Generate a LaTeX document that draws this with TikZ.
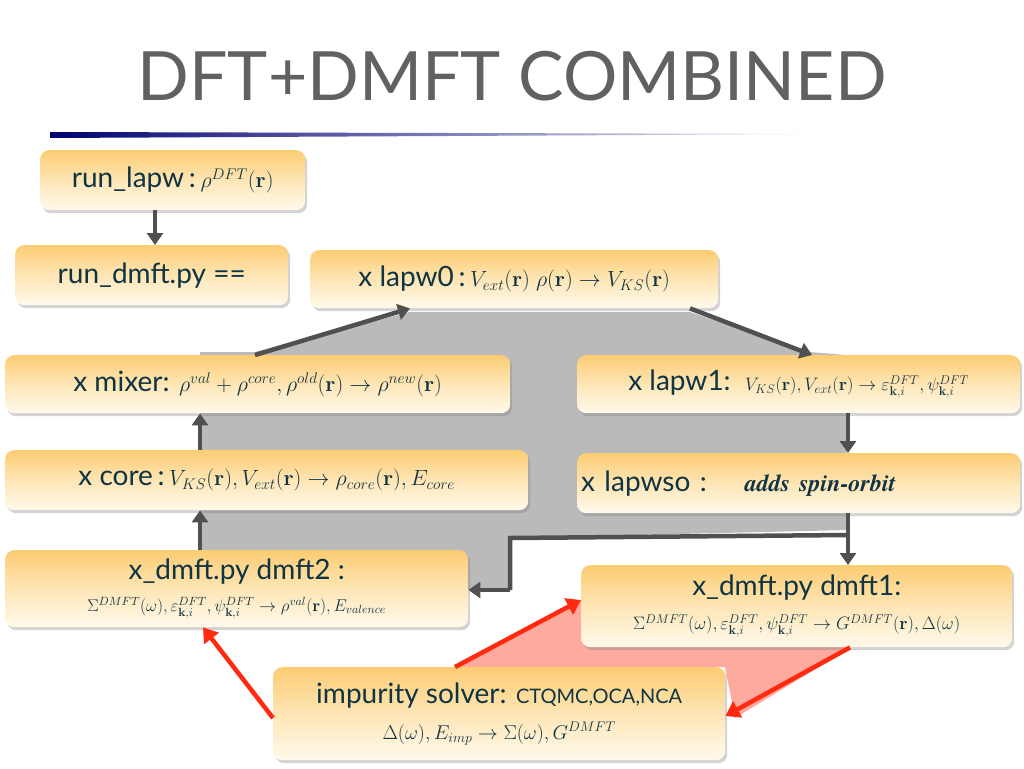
\documentclass[tikz,border=0pt]{standalone}
\usepackage{fix-cm}
\usepackage{amsmath}
\usepackage[no-math]{fontspec}
\setmainfont{Lato}
\usetikzlibrary{shadows,arrows.meta}
\definecolor{tc}{HTML}{0F3442}
\definecolor{ctop}{HTML}{FCCC73}
\definecolor{cbot}{HTML}{FFFAEC}
\definecolor{ag}{HTML}{505050}
\definecolor{ar}{HTML}{FF2A10}
\tikzset{
 bx/.style={rounded corners=9pt, top color=ctop, bottom color=cbot, middle color=ctop!45!cbot,
   drop shadow={shadow xshift=2pt,shadow yshift=-3pt,opacity=0.35}, text=tc, anchor=north west,
   inner sep=4pt, font=\fontsize{28}{34}\selectfont},
 garr/.style={draw=ag, line width=4.5pt, -{Triangle[length=12pt,width=16pt]}},
 rarr/.style={draw=ar, line width=4.5pt, -{Triangle[length=14pt,width=18pt]}}
}
\newcommand{\mathsz}{\fontsize{22}{26}\selectfont}
\newcommand{\msz}[1]{\fontsize{#1}{#1}\selectfont}
\begin{document}
\begin{tikzpicture}[x=1pt,y=-1pt]
\useasboundingbox (0,0) rectangle (1024,768);
% title
\node[text=black!62, font=\fontsize{68}{70}\selectfont] (title) at (512,76) {DFT+DMFT COMBINED};
\shade[left color=blue!45!black, right color=white] (50,132) -- (845,134) -- (50,138) -- cycle;
% background polygons
\fill[black!27] (200,413) -- (200,352) -- (255,352) -- (410,312) -- (690,312) -- (810,352) -- (845,355) -- (848,530) -- (510,538) -- (510,590) -- (470,590) -- (200,552) -- cycle;
\fill[ar!40] (455,667) -- (580,600) -- (850,648) -- (735,718) -- (725,667) -- cycle;
% boxes
\node[bx, minimum width=265pt, minimum height=60pt] (rl) at (40,150) {run\_lapw\,:\,{\mathsz$\rho^{DFT}(\mathbf{r})$}};
\node[bx, minimum width=273pt, minimum height=60pt] (rd) at (15,245) {run\_dmft.py ==};
\node[bx, minimum width=408pt, minimum height=58pt] (l0) at (310,250) {x lapw0\,:\,{\mathsz$V_{ext}(\mathbf{r})\;\rho(\mathbf{r})\rightarrow V_{KS}(\mathbf{r})$}};
\node[bx, minimum width=505pt, minimum height=58pt] (mx) at (5,355) {x mixer: {\mathsz$\rho^{val}+\rho^{core},\rho^{old}(\mathbf{r})\rightarrow\rho^{new}(\mathbf{r})$}};
\node[bx, minimum width=443pt, minimum height=58pt] (l1) at (577,355) {x lapw1:\ \ {\msz{18}$V_{KS}(\mathbf{r}),V_{ext}(\mathbf{r})\rightarrow\varepsilon^{DFT}_{\mathbf{k},i},\psi^{DFT}_{\mathbf{k},i}$}};
\node[bx, minimum width=523pt, minimum height=60pt] (co) at (5,450) {x core\,:\,{\mathsz$V_{KS}(\mathbf{r}),V_{ext}(\mathbf{r})\rightarrow\rho_{core}(\mathbf{r}),E_{core}$}};
\node[bx, minimum width=443pt, minimum height=60pt, text width=435pt, align=left] (so) at (577,453) {x lapwso :\hspace{38pt}{\fontsize{24}{28}\selectfont\fontspec{TeX Gyre Termes}\bfseries\itshape adds spin-orbit}};
\node[bx, minimum width=463pt, minimum height=77pt, align=center] (d2) at (5,550) {x\_dmft.py dmft2 :\\[-2pt]{\msz{17}$\Sigma^{DMFT}(\omega),\varepsilon^{DFT}_{\mathbf{k},i},\psi^{DFT}_{\mathbf{k},i}\rightarrow\rho^{val}(\mathbf{r}),E_{valence}$}};
\node[bx, minimum width=431pt, minimum height=82pt, align=center] (d1) at (581,565) {x\_dmft.py dmft1:\\[0pt]{\msz{18}$\Sigma^{DMFT}(\omega),\varepsilon^{DFT}_{\mathbf{k},i},\psi^{DFT}_{\mathbf{k},i}\rightarrow G^{DMFT}(\mathbf{r}),\Delta(\omega)$}};
\node[bx, minimum width=452pt, minimum height=93pt, align=center] (im) at (273,667) {impurity solver: {\fontsize{20}{24}\selectfont CTQMC,OCA,NCA}\\[2pt]{\msz{20}$\Delta(\omega),E_{imp}\rightarrow\Sigma(\omega),G^{DMFT}$}};
% coordinates
\coordinate (j1) at (848,535);
\coordinate (j2) at (510,538);
\coordinate (j3) at (510,590);
% arrows
\draw[garr] (rl.south -| 155,0) -- (rd.north -| 155,0);
\draw[garr] (mx.north -| 255,0) -- (l0.south -| 410,0);
\draw[garr] (l0.south -| 690,0) -- (l1.north -| 812,0);
\draw[garr] (l1.south -| 848,0) -- (so.north -| 848,0);
\draw[garr] (so.south -| 848,0) -- (d1.north -| 848,0);
\draw[draw=ag, line width=4.5pt] (j1) -- (j2) -- (j3);
\draw[garr] (j3) -- (d2.east |- j3);
\draw[garr] (co.north -| 200,0) -- (mx.south -| 200,0);
\draw[garr] (d2.north -| 200,0) -- (co.south -| 200,0);
\draw[rarr] (im.west |- 0,718) -- (d2.south -| 203,0);
\draw[rarr] (im.north -| 455,0) -- (d1.west |- 0,600);
\draw[rarr] (d1.south -| 850,0) -- (im.east |- 0,716);
\end{tikzpicture}
\end{document}
